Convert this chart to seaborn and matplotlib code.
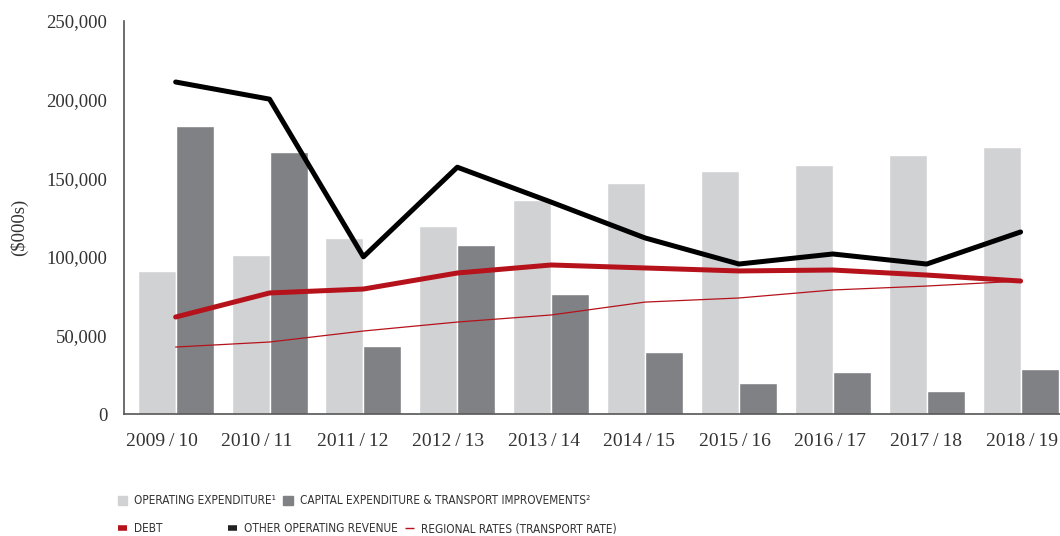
import pandas as pd
import numpy as np
from matplotlib import pyplot as plt
from matplotlib.patches import Patch
from matplotlib.lines import Line2D
import seaborn as sns

years = ['2009/10', '2010/11', '2011/12', '2012/13', '2013/14',
         '2014/15', '2015/16', '2016/17', '2017/18', '2018/19']
operating = [91000, 101000, 112000, 119600, 136100, 147000, 154500, 158400, 164700, 169800]
capital = [183200, 166600, 43200, 107500, 76300, 39400, 19700, 26700, 14600, 28600]
other_revenue = [211200, 200300, 100000, 157000, 134800, 112000, 95400, 101800, 95400, 115800]
debt = [61700, 77000, 79500, 89700, 94800, 92900, 91000, 91600, 88400, 84600]
regional_rates = [42600, 45800, 52800, 58500, 63000, 71200, 73800, 78900, 81400, 84600]

LIGHT = '#d1d2d4'
DARK = '#808184'
RED = '#b5121b'

sns.set_style('white')
plt.rcParams['font.family'] = ['Liberation Serif', 'DejaVu Serif']

bars = pd.DataFrame({
    'year': years * 2,
    'value': operating + capital,
    'kind': ['op'] * len(years) + ['cap'] * len(years),
})

fig = plt.figure(figsize=(10.6, 5.36), dpi=100)
ax = fig.add_axes([0.117, 0.2276, 0.883, 0.7332])

sns.barplot(data=bars, x='year', y='value', hue='kind', palette=[LIGHT, DARK],
            width=0.81, gap=0, saturation=1, legend=False, ax=ax, errorbar=None)

pos = np.arange(len(years))
sns.lineplot(x=pos, y=regional_rates, color=RED, lw=0.9, ax=ax)
sns.lineplot(x=pos, y=debt, color=RED, lw=3.6, ax=ax)
sns.lineplot(x=pos, y=other_revenue, color='black', lw=3.6, ax=ax)

ax.set_xlim(-0.55, 9.42)
ax.set_ylim(0, 250000)
ax.set_yticks(np.arange(0, 250001, 50000))
ax.set_yticklabels([f'{v:,}' for v in range(0, 250001, 50000)], fontsize=13.5, color='#333333')
# labels in the original sit slightly left of the bar pairs at the start
ax.set_xticks(np.linspace(-0.15, 9.01, len(years)))
ax.set_xticklabels([y.replace('/', '\u2009/\u2009') for y in years], fontsize=14, color='#333333')
ax.tick_params(axis='y', length=8, width=1, color='#555555', pad=4)
ax.tick_params(axis='x', length=0, pad=14)
ax.set_xlabel('')
ax.set_ylabel('($000s)', fontsize=13.5, color='#333333')
ax.yaxis.set_label_coords(-0.1026, 0.476)
sns.despine(ax=ax, top=True, right=True)
for s in ['left', 'bottom']:
    ax.spines[s].set_color('#555555')
    ax.spines[s].set_linewidth(1.2)

leg_font = {'family': ['DejaVu Sans', 'Liberation Sans'], 'stretch': 'condensed', 'size': 8.5}

def add_legend(handles, labels, x, y, ncol=1, spacing=1.0):
    lg = fig.legend(handles, labels, loc='center left', bbox_to_anchor=(x, y),
                    ncol=ncol, frameon=False, prop=leg_font, handlelength=0.8,
                    handleheight=0.9, handletextpad=0.6, columnspacing=spacing,
                    borderaxespad=0, borderpad=0)
    for t in lg.get_texts():
        t.set_color('#333333')
    return lg

add_legend([Patch(color=LIGHT), Patch(color=DARK)],
           ['OPERATING EXPENDITURE¹', 'CAPITAL EXPENDITURE & TRANSPORT IMPROVEMENTS²'],
           0.111, 1 - 501 / 536, ncol=2, spacing=0.6)
add_legend([Line2D([], [], color=RED, lw=4, solid_capstyle='butt')], ['DEBT'],
           0.111, 1 - 529 / 536)
add_legend([Line2D([], [], color='#222222', lw=4, solid_capstyle='butt')], ['OTHER OPERATING REVENUE'],
           0.215, 1 - 529 / 536)
add_legend([Line2D([], [], color=RED, lw=1, solid_capstyle='butt')], ['REGIONAL RATES (TRANSPORT RATE)'],
           0.382, 1 - 529 / 536)

fig.savefig('out.png', dpi=100)
